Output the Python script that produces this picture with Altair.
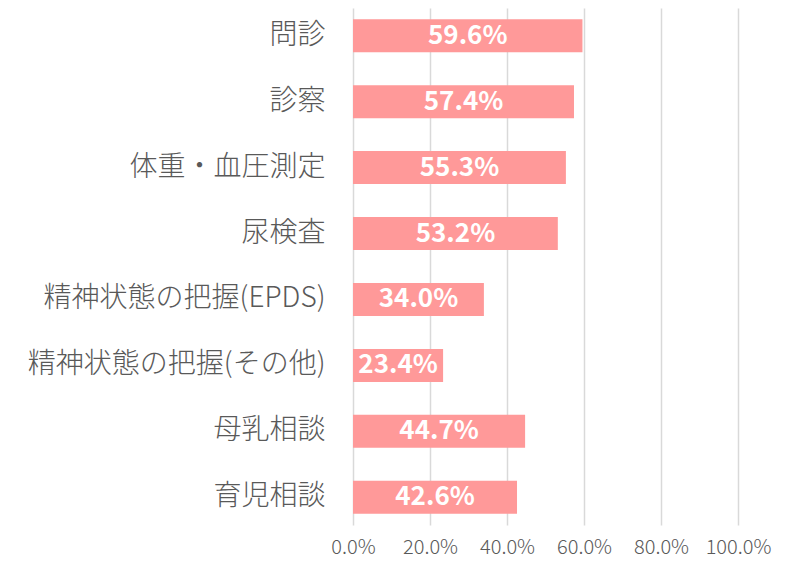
import altair as alt
import pandas as pd

categories = ["問診", "診察", "体重・血圧測定", "尿検査", "精神状態の把握(EPDS)",
              "精神状態の把握(その他)", "母乳相談", "育児相談"]
values = [0.596, 0.574, 0.553, 0.532, 0.340, 0.234, 0.447, 0.426]
x_ticks = [0, 0.2, 0.4, 0.6, 0.8, 1.0]

df = pd.DataFrame({"category": categories, "value": values})

FONT = "Noto Sans CJK JP"

base = alt.Chart(df).encode(
    y=alt.Y("category:N", sort=categories, title=None,
            scale=alt.Scale(paddingInner=0.5, paddingOuter=0.17),
            axis=alt.Axis(domain=False, ticks=False, labelFontSize=28,
                          labelColor="#595959", labelPadding=28, labelFont=FONT,
                          labelFontWeight=300,
                          grid=False, labelLimit=400, minExtent=345, maxExtent=345)),
)

bars = base.mark_bar(color="#FF9999").encode(
    x=alt.X("value:Q", title=None,
            scale=alt.Scale(domain=[0, 1]),
            axis=alt.Axis(values=x_ticks, format=".1%", domain=False, ticks=False,
                          labelFontSize=20, labelColor="#595959", labelPadding=12,
                          labelFont=FONT, labelFontWeight=300,
                          gridColor="#D9D9D9", gridWidth=1.5,
                          labelFlush=False)),
)

labels = base.mark_text(color="white", fontWeight="bold", fontSize=26, font=FONT,
                        align="center", baseline="middle").encode(
    x=alt.X("mid:Q"),
    text=alt.Text("value:Q", format=".1%"),
).transform_calculate(mid="datum.value / 2")

chart = (bars + labels).properties(
    width=385, height=517,
    padding={"left": 0, "top": 0, "right": 5, "bottom": 8},
).configure_view(stroke=None)

chart.save("out.html", embed_options={"renderer": "svg", "actions": False})
